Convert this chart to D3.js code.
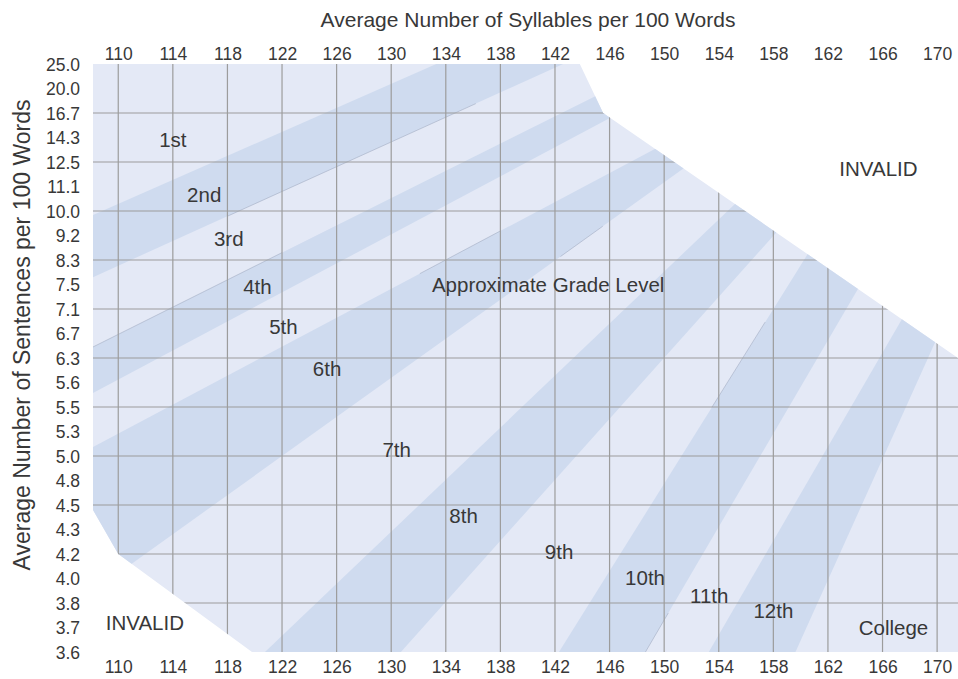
<!DOCTYPE html>
<html><head><meta charset="utf-8">
<script src="https://cdn.jsdelivr.net/npm/d3@7/dist/d3.min.js"></script>
<style>
html,body{margin:0;padding:0;background:#fff;}
svg{display:block;}
text{font-family:"Liberation Sans",Arial,Helvetica,sans-serif;fill:#383838;}
</style></head><body>
<svg id="chart" width="958" height="679"></svg>
<script>
// ---------- data ----------
const syllableTicks = [110,114,118,122,126,130,134,138,142,146,150,154,158,162,166,170];
const sentenceLabels = [25.0,20.0,16.7,14.3,12.5,11.1,10.0,9.2,8.3,7.5,7.1,6.7,6.3,5.6,5.5,5.3,5.0,4.8,4.5,4.3,4.2,4.0,3.8,3.7,3.6];
const sentenceGrid = [16.7,12.5,10.0,8.3,7.1,6.3,5.5,5.0,4.5,4.2,3.8];
const syllableRange = [108.15, 171.53];
// valid (non-INVALID) region: [syllables, sentences]
const validRegion = [[108.15,25.0],[143.82,25.0],[145.53,16.7],[171.53,6.3],[171.53,3.6],[119.8,3.6],[110.0,4.2],[108.15,4.46]];
// darker grade bands: each edge given by two [syllables, sentences] points
const gradeBands = [
  {grade:"2nd",  upper:[[108.15,9.87],[133.3,25.0]],   lower:[[108.15,7.74],[142.6,25.0]]},
  {grade:"4th",  upper:[[108.15,6.48],[144.92,18.92]], lower:[[108.15,5.557],[146.02,16.21]]},
  {grade:"6th",  upper:[[108.15,5.11],[148.99,13.28]], lower:[[111.2,4.138],[151.41,12.13]]},
  {grade:"8th",  upper:[[120.75,3.6],[155.03,10.22]],  lower:[[130.71,3.6],[158.18,9.28]]},
  {grade:"10th", upper:[[142.29,3.6],[160.43,8.45]],   lower:[[148.63,3.6],[164.1,7.39]]},
  {grade:"12th", upper:[[153.27,3.6],[167.27,6.876]],  lower:[[159.62,3.6],[169.83,6.544]]}
];
// thin seam lines visible along parts of some band edges: [band index, edge, syllable from, syllable to]
const seams = [[0,"lower",118.0,136.2],[1,"upper",108.15,122.0],[2,"upper",132.1,138.0],[2,"lower",142.4,145.5],[4,"upper",153.5,157.4],[4,"lower",148.6,150.3]];
const gradeNames = ["1st","2nd","3rd","4th","5th","6th","7th","8th","9th","10th","11th","12th","College"];
const gradeNameSyllables = [114.0,116.3,118.1,120.2,122.1,125.3,130.4,135.3,142.3,148.6,153.3,158.0,166.8];
const gradeNameSentences = [14.12,10.72,9.07,7.46,6.82,6.0,5.08,4.41,4.21,4.01,3.86,3.77,3.70];
const notes = ["Approximate Grade Level","INVALID","INVALID"];
const noteSyllables = [141.5,165.7,111.95];
const noteSentences = [7.49,12.1,3.72];
const xTitle = "Average Number of Syllables per 100 Words";
const yTitle = "Average Number of Sentences per 100 Words";

// ---------- layout ----------
const W = 958, H = 679;
const plot = {left:93, right:958, top:64, bottom:652};
const colors = {light:"#e4e9f6", dark:"#cfdbef", grid:"#9c9c9c", seam:"#98a2b8", text:"#383838"};

const svg = d3.select("#chart");
const x = d3.scaleLinear().domain(syllableRange).range([plot.left, plot.right]);
const step = (plot.bottom - plot.top) / (sentenceLabels.length - 1);
const y = d3.scaleLinear().domain(sentenceLabels).range(sentenceLabels.map((d,i)=>plot.top + i*step));
const P = d => [x(d[0]), y(d[1])];

svg.append("rect").attr("width",W).attr("height",H).attr("fill","#fff");

const defs = svg.append("defs");
defs.append("clipPath").attr("id","valid")
  .append("polygon").attr("points", validRegion.map(P).map(p=>p.join(",")).join(" "));

svg.append("polygon").attr("points", validRegion.map(P).map(p=>p.join(",")).join(" "))
  .attr("fill", colors.light);

const g = svg.append("g").attr("clip-path","url(#valid)");

function extend(a,b,f){ return [[a[0]+(a[0]-b[0])*f, a[1]+(a[1]-b[1])*f],[b[0]+(b[0]-a[0])*f, b[1]+(b[1]-a[1])*f]]; }
g.selectAll("polygon.band").data(gradeBands).join("polygon").attr("class","band")
  .attr("fill", colors.dark)
  .attr("points", d=>{
    const u = extend(P(d.upper[0]), P(d.upper[1]), 0.3);
    const l = extend(P(d.lower[0]), P(d.lower[1]), 0.3);
    return [u[0],u[1],l[1],l[0]].map(p=>p.join(",")).join(" ");
  });

// seams: points on a band edge at given syllable values (pixel-straight edge)
function edgeAt(edge, s){
  const a = P(edge[0]), b = P(edge[1]);
  const px = x(s), t = (px - a[0])/(b[0]-a[0]);
  return [px, a[1] + t*(b[1]-a[1])];
}
g.selectAll("line.seam").data(seams).join("line").attr("class","seam")
  .each(function(d){
    const e = gradeBands[d[0]][d[1]];
    const p0 = edgeAt(e,d[2]), p1 = edgeAt(e,d[3]);
    d3.select(this).attr("x1",p0[0]).attr("y1",p0[1]).attr("x2",p1[0]).attr("y2",p1[1]);
  })
  .attr("stroke",colors.seam).attr("stroke-width",0.5);

// gridlines
g.selectAll("line.v").data(syllableTicks).join("line").attr("class","v")
  .attr("x1",d=>x(d)).attr("x2",d=>x(d)).attr("y1",plot.top).attr("y2",plot.bottom)
  .attr("stroke",colors.grid).attr("stroke-width",1.2);
g.selectAll("line.h").data(sentenceGrid).join("line").attr("class","h")
  .attr("y1",d=>y(d)).attr("y2",d=>y(d)).attr("x1",plot.left).attr("x2",plot.right)
  .attr("stroke",colors.grid).attr("stroke-width",1.2);

// axes
const fmt = d3.format(".1f");
const topAxis = svg.append("g").attr("transform",`translate(0,${plot.top})`)
  .call(d3.axisTop(x).tickValues(syllableTicks).tickSize(0).tickPadding(4));
const botAxis = svg.append("g").attr("transform",`translate(0,${plot.bottom})`)
  .call(d3.axisBottom(x).tickValues(syllableTicks).tickSize(0).tickPadding(9));
const leftAxis = svg.append("g").attr("transform",`translate(${plot.left},0)`)
  .call(d3.axisLeft(y).tickValues(sentenceLabels).tickFormat(fmt).tickSize(0).tickPadding(13));
[topAxis,botAxis,leftAxis].forEach(a=>{
  a.select(".domain").remove();
  a.selectAll("text").attr("fill",colors.text).style("font-size","17.5px")
    .style("font-family",'"Liberation Sans",Arial,sans-serif');
});
leftAxis.selectAll("text").attr("dy","0.36em");

// titles
svg.append("text").attr("x",528).attr("y",27).attr("text-anchor","middle")
  .style("font-size","21px").text(xTitle);
svg.append("text").attr("transform",`translate(30,335) rotate(-90)`)
  .attr("text-anchor","middle").style("font-size","23px").text(yTitle);

// grade labels
svg.selectAll("text.grade").data(gradeNames).join("text").attr("class","grade")
  .attr("x",(d,i)=>x(gradeNameSyllables[i])).attr("y",(d,i)=>y(gradeNameSentences[i]))
  .attr("dy","0.36em").attr("text-anchor","middle").style("font-size","20.5px").text(d=>d);
svg.selectAll("text.note").data(notes).join("text").attr("class","note")
  .attr("x",(d,i)=>x(noteSyllables[i])).attr("y",(d,i)=>y(noteSentences[i]))
  .attr("dy","0.36em").attr("text-anchor","middle").style("font-size","20.5px").text(d=>d);
</script>
</body></html>
